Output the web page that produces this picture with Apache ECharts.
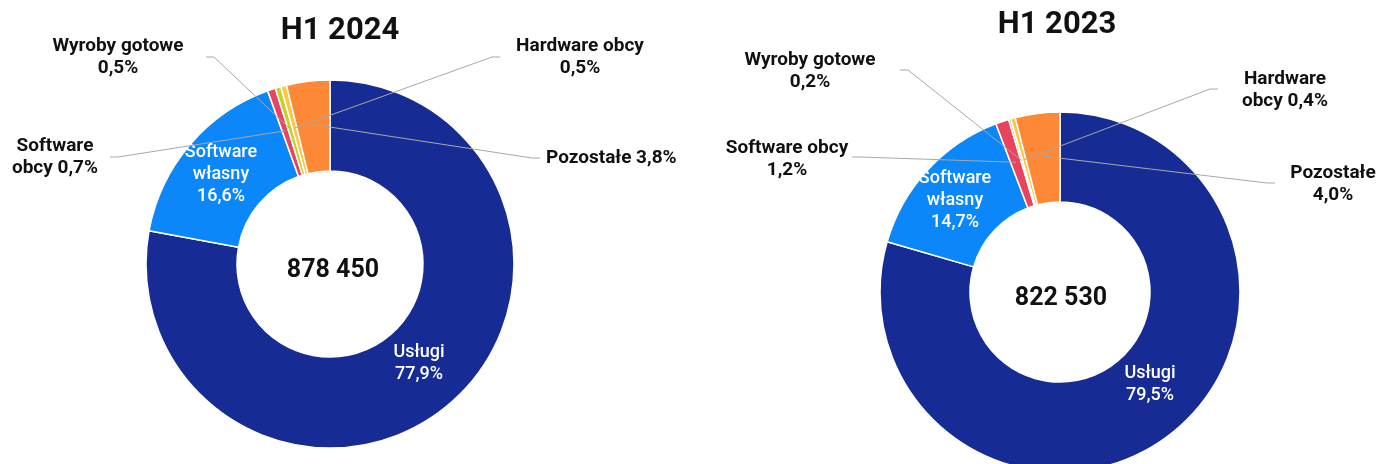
<!DOCTYPE html>
<html>
<head>
<meta charset="utf-8">
<script src="https://cdn.jsdelivr.net/npm/echarts@6/dist/echarts.min.js"></script>
<style>
  html, body { margin: 0; padding: 0; background: #fff; }
  #chart { width: 1379px; height: 464px; }
</style>
</head>
<body>
<div id="chart"></div>
<script>
// revenue structure, share in %
const categories = ['Usługi', 'Software własny', 'Software obcy', 'Wyroby gotowe', 'Hardware obcy', 'Pozostałe']
const share2024 = [77.9, 16.6, 0.7, 0.5, 0.5, 3.8]
const share2023 = [79.5, 14.7, 1.2, 0.2, 0.4, 4.0]
const periods = ['H1 2024', 'H1 2023']
const totals = ['878 450', '822 530']

// label wording (line breaks differ between the two pies), {v} = value
const labelText2024 = ['Usługi\n{v}', 'Software\nwłasny\n{v}', 'Software\nobcy {v}', 'Wyroby gotowe\n{v}', 'Hardware obcy\n{v}', 'Pozostałe {v}']
const labelText2023 = ['Usługi\n{v}', 'Software\nwłasny\n{v}', 'Software obcy\n{v}', 'Wyroby gotowe\n{v}', 'Hardware\nobcy {v}', 'Pozostałe\n{v}']

const colors = ['#172b94', '#0b87fa', '#e9435e', '#c3d32a', '#fdc640', '#fd8836']
const FONT = 'Roboto, "Noto Sans", sans-serif'

// label placement: [labelX, labelY, align, lineEndX, lineEndY]
const spots2024 = {
  0: [419, 363, 'center'],
  1: [221, 174, 'center'],
  2: [55, 157, 'center', 110, 157],
  3: [118, 57, 'center', 206, 57],
  4: [580, 57, 'center', 500, 57],
  5: [546, 158, 'left', 540, 158]
}
const spots2023 = {
  0: [1150, 384, 'center'],
  1: [955, 200, 'center'],
  2: [787, 159, 'center', 852, 157],
  3: [810, 71, 'center', 900, 70],
  4: [1285, 90, 'center', 1218, 89],
  5: [1333, 184, 'center', 1275, 183]
}

function fmt(v) {
  return v.toFixed(1).replace('.', ',') + '%'
}

function makeLayout(center, radius, spots) {
  const rMid = (radius[0] + radius[1]) / 2 + 2
  return function (p) {
    const s = spots[p.dataIndex]
    if (!s) return {}
    const out = { x: s[0], y: s[1], align: s[2], verticalAlign: 'middle' }
    if (s.length > 3) {
      const pts = p.labelLinePoints
      let start = [center[0], center[1] - rMid]
      if (pts && pts.length) {
        const dx = pts[0][0] - center[0]
        const dy = pts[0][1] - center[1]
        const len = Math.sqrt(dx * dx + dy * dy) || 1
        start = [center[0] + dx / len * rMid, center[1] + dy / len * rMid]
      }
      const elbow = [s[3] + (s[3] < start[0] ? 8 : -8), s[4]]
      out.labelLinePoints = [start, elbow, [s[3], s[4]]]
    }
    return out
  }
}

// coloured ring with the two labels that sit inside the slices
function buildPie(values, texts, center, radius, spots) {
  return {
    type: 'pie',
    center: center,
    radius: radius,
    startAngle: 90,
    clockwise: true,
    avoidLabelOverlap: false,
    animation: false,
    z: 2,
    itemStyle: { borderColor: '#fff', borderWidth: 1.5 },
    labelLine: { show: false },
    labelLayout: makeLayout(center, radius, spots),
    data: categories.map((name, i) => ({
      name: name,
      value: values[i],
      itemStyle: { color: colors[i] },
      label: {
        show: i < 2,
        position: 'inside',
        formatter: texts[i].replace('{v}', fmt(values[i])),
        color: '#fff',
        fontFamily: FONT,
        fontSize: 18,
        fontWeight: 500,
        lineHeight: 22,
        align: 'center'
      }
    }))
  }
}

// transparent copy on top, carries the outside labels so leader lines cross the ring
function buildLabels(values, texts, center, radius, spots) {
  return {
    type: 'pie',
    center: center,
    radius: radius,
    startAngle: 90,
    clockwise: true,
    avoidLabelOverlap: false,
    animation: false,
    silent: true,
    z: 5,
    itemStyle: { color: 'rgba(0,0,0,0)', borderWidth: 0 },
    labelLine: {
      show: true,
      length: 10,
      length2: 10,
      lineStyle: { color: '#a8a8a8', width: 1, opacity: 1 }
    },
    labelLayout: makeLayout(center, radius, spots),
    data: categories.map((name, i) => ({
      name: name,
      value: values[i],
      label: {
        show: i >= 2,
        position: 'outside',
        formatter: texts[i].replace('{v}', fmt(values[i])),
        color: '#111',
        opacity: 1,
        fontFamily: FONT,
        fontSize: 19,
        fontWeight: 'bold',
        lineHeight: 22,
        align: 'center'
      },
      labelLine: { show: i >= 2 }
    }))
  }
}

const chart = echarts.init(document.getElementById('chart'))

const titleStyle = { fontFamily: FONT, fontSize: 31, fontWeight: 'bold', color: '#111' }
const totalStyle = { fontFamily: FONT, fontSize: 25, fontWeight: 'bold', color: '#111' }

const option = {
  backgroundColor: '#fff',
  title: [
    { text: periods[0], left: 335, top: 11, textAlign: 'center', textStyle: titleStyle },
    { text: periods[1], left: 1052, top: 5, textAlign: 'center', textStyle: titleStyle },
    { text: totals[0], left: 328, top: 253, textAlign: 'center', textStyle: totalStyle },
    { text: totals[1], left: 1056, top: 281, textAlign: 'center', textStyle: totalStyle }
  ],
  series: [
    buildPie(share2024, labelText2024, [330, 264], [93, 184], spots2024),
    buildPie(share2023, labelText2023, [1060, 292], [90, 180], spots2023),
    buildLabels(share2024, labelText2024, [330, 264], [93, 184], spots2024),
    buildLabels(share2023, labelText2023, [1060, 292], [90, 180], spots2023)
  ]
}

chart.setOption(option)
</script>
</body>
</html>
